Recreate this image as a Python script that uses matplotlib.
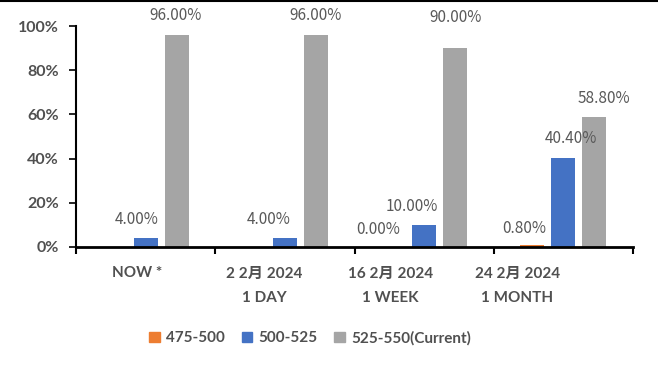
import numpy as np
import matplotlib
matplotlib.use("Agg")
import matplotlib.pyplot as plt
from matplotlib.lines import Line2D
from matplotlib.patches import Patch

categories = ["NOW *", "2 2月 2024\n1 DAY", "16 2月 2024\n1 WEEK", "24 2月 2024\n1 MONTH"]
series_names = ["475-500", "500-525", "525-550(Current)"]
s_475_500 = [np.nan, np.nan, 0.0, 0.8]
s_500_525 = [4.0, 4.0, 10.0, 40.4]
s_525_550 = [96.0, 96.0, 90.0, 58.8]
y_ticks = [0, 20, 40, 60, 80, 100]

colors = ["#ED7D31", "#4472C4", "#A5A5A5"]
series = [s_475_500, s_500_525, s_525_550]

# label offsets in pixels (dx, dy above bar top to text center)
label_offsets = [
    [None, None, (-15, 17), (-8, 17)],
    [(-9, 19), (-16, 19), (-12, 18), (8, 19)],
    [(-1, 19), (0, 19), (0, 31), (9, 19)],
]

plt.rcParams['font.family'] = ['Lato', 'Noto Sans CJK SC', 'DejaVu Sans']
fig = plt.figure(figsize=(6.58, 3.69), dpi=100)
ax = fig.add_axes([76/658, 1-247/369, (633-76)/658, (247-26)/369])

x = np.arange(len(categories))
width = 0.172
step = 0.223
for k, (vals, col) in enumerate(zip(series, colors)):
    pos = x + (k - 1) * step
    v = np.array(vals, dtype=float)
    ax.bar(pos, np.nan_to_num(v), width=width, color=col, zorder=2)
    for i, val in enumerate(v):
        if np.isnan(val):
            continue
        dx, dy = label_offsets[k][i]
        ax.annotate(f"{val:.2f}%", xy=(pos[i], val), xytext=(dx*0.72, dy*0.72),
                    textcoords="offset points", ha="center", va="center",
                    fontsize=11, color="#595959",
                    family=['Noto Sans CJK SC', 'DejaVu Sans'])

ax.set_xlim(-0.5, 3.5)
ax.set_ylim(0, 100)
ax.set_yticks(y_ticks)
ax.set_yticklabels([f"{t}%" for t in y_ticks], fontsize=11.5, fontweight="bold", color="#505050")
ax.tick_params(axis="y", length=5, width=1.2, color="black", pad=7.5)

# category boundaries as minor ticks, labels on major ticks
ax.set_xticks(np.arange(-0.5, 3.6, 1.0), minor=True)
ax.tick_params(axis="x", which="minor", length=5, width=1.5, color="black")
label_pos = x - 0.06 - 0.09 * x
ax.set_xticks(label_pos)
ax.set_xticklabels(categories, fontsize=11, fontweight="bold", color="#505050", linespacing=1.95)
ax.tick_params(axis="x", which="major", length=0, pad=14)

for s in ["top", "right"]:
    ax.spines[s].set_visible(False)
ax.spines["left"].set_linewidth(1.5)
ax.spines["bottom"].set_linewidth(2)

handles = [Patch(color=c) for c in colors]
fig.legend(handles, series_names, loc="center", bbox_to_anchor=(310/658, 1-338/369),
           ncol=3, frameon=False, handlelength=0.7, handleheight=0.7, handletextpad=0.4,
           columnspacing=1.1, prop={'size': 11, 'weight': 'bold'}, labelcolor="#505050")

fig.add_artist(Line2D([0, 1], [0.998, 0.998], transform=fig.transFigure, color="black", lw=1.5))

fig.savefig("out.png", dpi=100)
